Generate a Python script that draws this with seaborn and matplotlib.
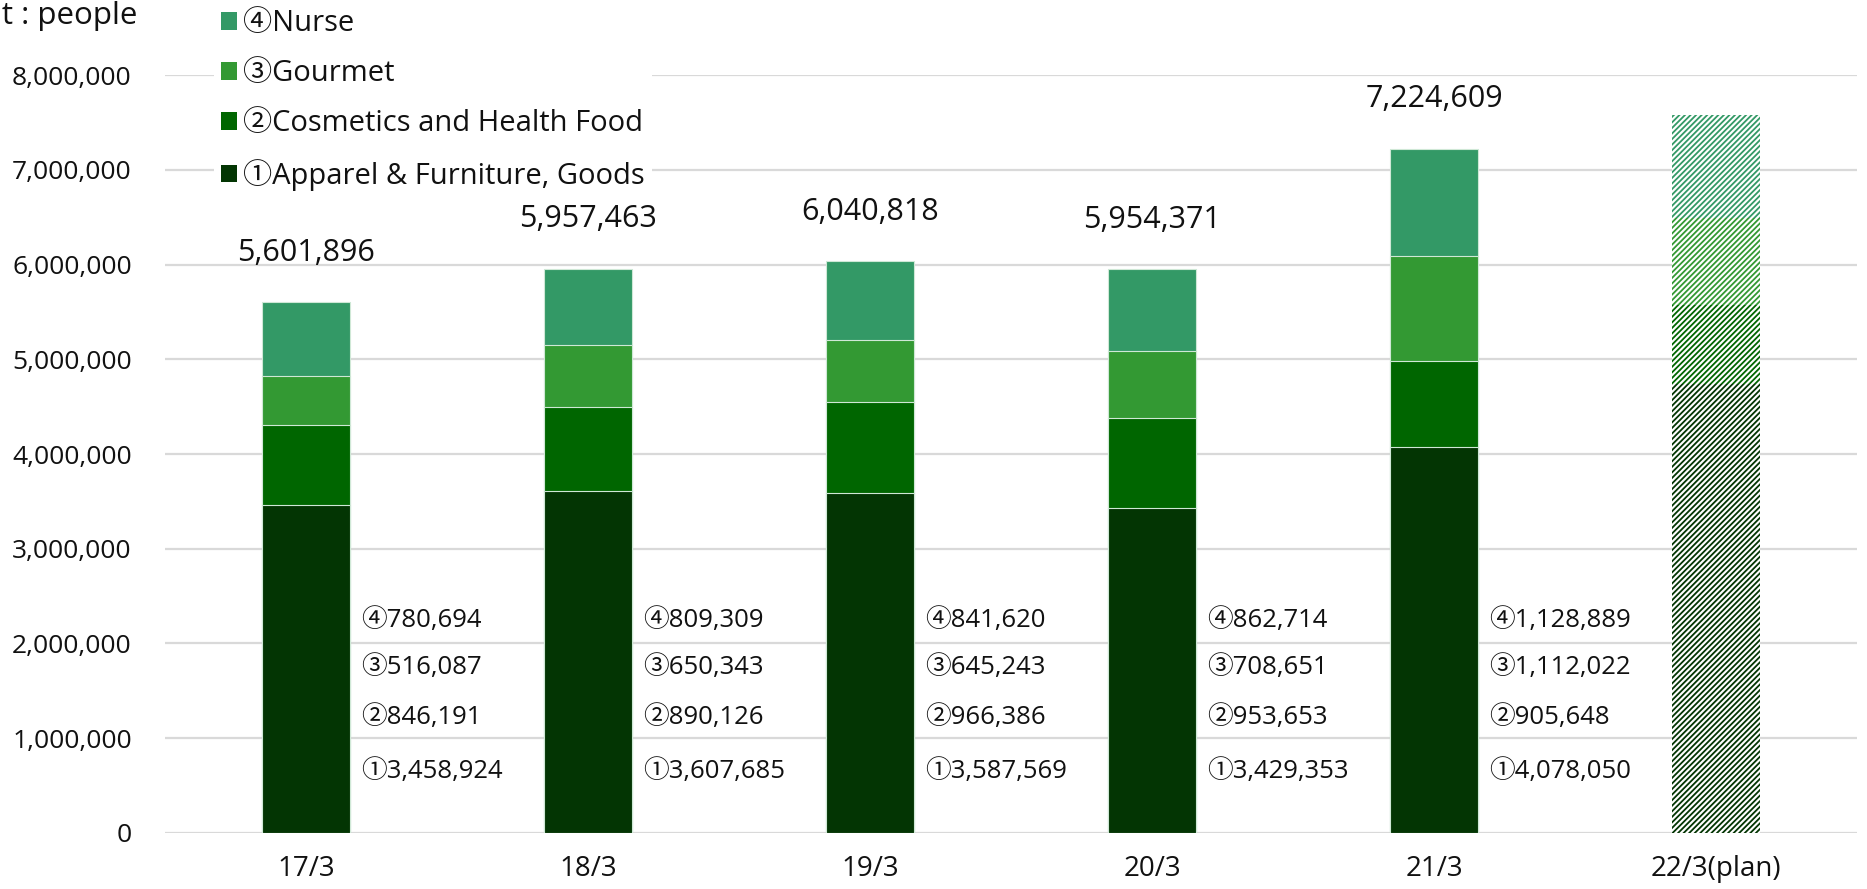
import matplotlib
matplotlib.use("Agg")
import matplotlib.pyplot as plt
from matplotlib.patches import Patch
from matplotlib.ticker import StrMethodFormatter
import seaborn as sns
import numpy as np

# ---- data ----
categories = ["17/3", "18/3", "19/3", "20/3", "21/3", "22/3(plan)"]
apparel = [3458924, 3607685, 3587569, 3429353, 4078050, 4740000]
cosmetics = [846191, 890126, 966386, 953653, 905648, 830000]
gourmet = [516087, 650343, 645243, 708651, 1112022, 920000]
nurse = [780694, 809309, 841620, 862714, 1128889, 1090000]
totals = [5601896, 5957463, 6040818, 5954371, 7224609]
series_names = ["①Apparel & Furniture, Goods", "②Cosmetics and Health Food",
                "③Gourmet", "④Nurse"]
series_colors = ["#033503", "#006600", "#339933", "#339966"]
label_marks = ["①", "②", "③", "④"]
y_ticks = [0, 1000000, 2000000, 3000000, 4000000, 5000000, 6000000, 7000000, 8000000]

sns.set_theme(style="white")
plt.rcParams["font.family"] = ["Open Sans", "Noto Sans CJK JP", "DejaVu Sans"]
plt.rcParams["hatch.linewidth"] = 1.3

fig = plt.figure(figsize=(18.67, 8.89), dpi=100)
ax = fig.add_axes([0.0884, 0.0632, 0.9946 - 0.0884, 0.9154 - 0.0632])

series = [apparel, cosmetics, gourmet, nurse]
cum = np.cumsum(np.array(series, dtype=float), axis=0)
plan_idx = len(categories) - 1

# draw cumulative levels from top to bottom (overlapping)
for k in range(3, -1, -1):
    n_before = len(ax.patches)
    sns.barplot(x=categories, y=cum[k], color=series_colors[k], width=0.312,
                saturation=1, edgecolor="#cfe8d6", linewidth=0.8, ax=ax, zorder=2)
    new = ax.patches[n_before:]
    p = new[plan_idx]
    p.set_facecolor("white")
    p.set_edgecolor(series_colors[k])
    p.set_linewidth(0)
    p.set_hatch("//////")

ax.set_ylim(0, 8000000)
ax.set_xlim(-0.5, 5.5)
ax.set_yticks(y_ticks)
ax.yaxis.set_major_formatter(StrMethodFormatter("{x:,.0f}"))
ax.yaxis.grid(True, color="#d9d9d9", linewidth=1.6)
ax.xaxis.grid(False)
ax.set_axisbelow(True)
for s in ax.spines.values():
    s.set_visible(False)
ax.tick_params(axis="y", length=0, pad=24, labelsize=19, labelcolor="#111111")
ax.tick_params(axis="x", length=0, pad=16, labelsize=20, labelcolor="#111111")
ax.set_xlabel("")
ax.set_ylabel("")

# total labels above bars
for i, t in enumerate(totals):
    ax.text(i, t + 520000, f"{t:,}", ha="center", va="center", fontsize=22,
            color="#111111")

# segment labels right of bars
row_y = [650000, 1220000, 1750000, 2240000]
for i in range(len(totals)):
    for k in range(4):
        ax.text(i + 0.195, row_y[k], f"{label_marks[k]}{series[k][i]:,}",
                ha="left", va="center", fontsize=18.5, color="#111111")

# legend
handles = [Patch(facecolor=series_colors[k], edgecolor="none") for k in range(3, -1, -1)]
labels = [series_names[k] for k in range(3, -1, -1)]
leg = ax.legend(handles, labels, loc="upper left", bbox_to_anchor=(0.1146, 0.998),
                bbox_transform=fig.transFigure, frameon=True, facecolor="white",
                edgecolor="none", framealpha=1, fontsize=21, handlelength=0.55,
                handleheight=0.55, handletextpad=0.2, labelspacing=0.72,
                borderpad=0.25, borderaxespad=0, fancybox=False)
for txt in leg.get_texts():
    txt.set_color("#111111")

fig.text(137 / 1867, 1 - 16 / 889, "Unit : people", ha="right", va="center",
         fontsize=22.5, color="#111111")

fig.savefig("out.png", dpi=100)
